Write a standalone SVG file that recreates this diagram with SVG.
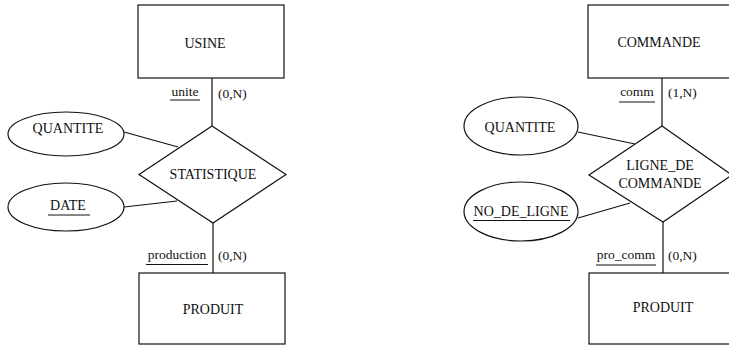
<svg xmlns="http://www.w3.org/2000/svg" width="729" height="347" viewBox="0 0 729 347">
  <style>
    .shape { fill: #fff; stroke: #111; stroke-width: 1.2; }
    .link { stroke: #111; stroke-width: 1.2; fill: none; }
    .ul { stroke: #111; stroke-width: 1; }
    text { font-family: "Liberation Serif", "Times New Roman", serif; font-size: 14px; fill: #111; }
    .c { text-anchor: middle; }
    .role { font-size: 13.5px; }
  </style>
  <rect width="729" height="347" fill="#fff"/>

  <!-- connectors -->
  <g id="connectors">
    <line class="link" x1="212" y1="78" x2="212" y2="126"/>
    <line class="link" x1="213" y1="223" x2="213" y2="273"/>
    <line class="link" x1="124" y1="132" x2="178" y2="147"/>
    <line class="link" x1="124" y1="207" x2="177" y2="201"/>
    <line class="link" x1="662" y1="78" x2="662" y2="126"/>
    <line class="link" x1="663" y1="222" x2="663" y2="273"/>
    <line class="link" x1="578" y1="132" x2="635" y2="144"/>
    <line class="link" x1="578" y1="218" x2="630" y2="203"/>
  </g>

  <!-- left schema -->
  <g id="usine">
    <rect class="shape" x="138" y="5" width="146" height="73"/>
    <text class="c" x="205" y="48">USINE</text>
  </g>
  <g id="statistique">
    <polygon class="shape" points="212,126 286,174.5 213,223 139,174.5"/>
    <text class="c" x="213" y="179">STATISTIQUE</text>
  </g>
  <g id="produit-1">
    <rect class="shape" x="139" y="273" width="146" height="71"/>
    <text class="c" x="213" y="314">PRODUIT</text>
  </g>
  <g id="quantite-1">
    <ellipse class="shape" cx="66" cy="134" rx="58" ry="22"/>
    <text class="c" x="68" y="133">QUANTITE</text>
  </g>
  <g id="date">
    <ellipse class="shape" cx="66" cy="207" rx="58" ry="24"/>
    <text class="c" x="68" y="210">DATE</text>
    <line class="ul" x1="48" y1="215" x2="90" y2="215"/>
  </g>
  <g id="role-unite">
    <text class="c role" x="185" y="96">unite</text>
    <line class="ul" x1="170" y1="100" x2="200" y2="100"/>
    <text class="role" x="218" y="98">(0,N)</text>
  </g>
  <g id="role-production">
    <text class="c role" x="177" y="259">production</text>
    <line class="ul" x1="146" y1="264.5" x2="208" y2="264.5"/>
    <text class="role" x="218" y="260">(0,N)</text>
  </g>

  <!-- right schema -->
  <g id="commande">
    <rect class="shape" x="588" y="5" width="160" height="73"/>
    <text class="c" x="659" y="47">COMMANDE</text>
  </g>
  <g id="ligne-de-commande">
    <polygon class="shape" points="662,126 732,175 663,222 589,175"/>
    <text class="c" x="660" y="170">LIGNE_DE</text>
    <text class="c" x="660" y="188">COMMANDE</text>
  </g>
  <g id="produit-2">
    <rect class="shape" x="589" y="273" width="160" height="71"/>
    <text class="c" x="663" y="312">PRODUIT</text>
  </g>
  <g id="quantite-2">
    <ellipse class="shape" cx="521" cy="126" rx="57" ry="29"/>
    <text class="c" x="520" y="132">QUANTITE</text>
  </g>
  <g id="no-de-ligne">
    <ellipse class="shape" cx="521" cy="211.5" rx="57" ry="29.5"/>
    <text class="c" x="521" y="216">NO_DE_LIGNE</text>
    <line class="ul" x1="473" y1="220.5" x2="570" y2="220.5"/>
  </g>
  <g id="role-comm">
    <text class="c role" x="637" y="96">comm</text>
    <line class="ul" x1="619" y1="102" x2="655" y2="102"/>
    <text class="role" x="668" y="97">(1,N)</text>
  </g>
  <g id="role-pro-comm">
    <text class="c role" x="626" y="259">pro_comm</text>
    <line class="ul" x1="596" y1="265" x2="656" y2="265"/>
    <text class="role" x="668" y="260">(0,N)</text>
  </g>
</svg>
